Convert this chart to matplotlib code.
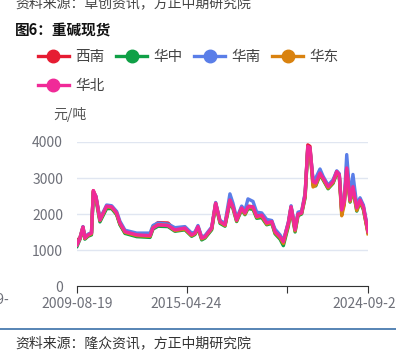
import numpy as np
import matplotlib
matplotlib.use("Agg")
import matplotlib.pyplot as plt
from matplotlib.lines import Line2D

plt.rcParams['font.family'] = ['Noto Sans CJK SC', 'DejaVu Sans']

# 日期
dates = ["2009-08-19", "2009-10-15", "2009-12-10", "2010-01-15", "2010-03-15",
         "2010-05-20", "2010-06-24", "2010-08-13", "2010-10-27", "2011-03-03",
         "2011-06-06", "2011-09-09", "2011-11-10", "2012-02-14", "2012-09-23",
         "2013-06-02", "2013-07-28", "2013-10-30", "2014-05-08", "2014-09-17",
         "2015-03-25", "2015-07-30", "2015-10-01", "2015-11-27", "2016-02-06",
         "2016-04-08", "2016-08-13", "2016-10-27", "2017-01-18", "2017-04-22",
         "2017-07-24", "2017-09-20", "2017-11-28", "2018-03-03", "2018-05-05",
         "2018-07-01", "2018-10-04", "2018-12-13", "2019-03-18", "2019-06-21",
         "2019-09-24", "2019-11-25", "2020-02-28", "2020-05-01", "2020-08-04",
         "2020-09-24", "2020-12-09", "2021-02-03", "2021-04-12", "2021-06-17",
         "2021-08-07", "2021-09-17", "2021-11-14", "2022-01-04", "2022-03-26",
         "2022-05-23", "2022-08-26", "2022-11-28", "2023-02-06", "2023-03-26",
         "2023-05-11", "2023-06-28", "2023-08-14", "2023-10-16", "2023-12-10",
         "2024-02-20", "2024-04-22", "2024-06-24", "2024-09-20"]

# 各地区价格 (元/吨)
xinan = [1250, 1350, 1640, 1330, 1420, 1470, 2650, 2470, 1850, 2200,
         2180, 2000, 1720, 1480, 1400, 1380, 1650, 1760, 1750, 1560,
         1600, 1420, 1460, 1640, 1330, 1370, 1600, 2300, 1790, 1700,
         2400, 2220, 1850, 2180, 2030, 2220, 2200, 1950, 1980, 1760,
         1800, 1520, 1380, 1230, 1760, 2200, 1580, 2000, 2050, 2550,
         3920, 3880, 2900, 2850, 3150, 3000, 2750, 2900, 3180, 3100,
         2100, 2330, 3300, 2400, 2750, 2180, 2400, 2200, 1500]
huazhong = [1100, 1300, 1600, 1300, 1380, 1420, 2600, 2400, 1780, 2150,
            2150, 1980, 1700, 1460, 1370, 1350, 1580, 1660, 1650, 1520,
            1560, 1380, 1430, 1600, 1280, 1330, 1560, 2250, 1740, 1660,
            2330, 2150, 1790, 2120, 1980, 2150, 2130, 1880, 1900, 1700,
            1740, 1450, 1300, 1120, 1660, 2150, 1500, 1950, 2000, 2450,
            3800, 3760, 2800, 2780, 3080, 2950, 2700, 2850, 3120, 3040,
            2050, 2280, 3250, 2330, 2680, 2080, 2330, 2120, 1480]
huanan = [1150, 1340, 1650, 1350, 1440, 1480, 2600, 2500, 1870, 2250,
          2230, 2070, 1800, 1550, 1470, 1470, 1680, 1750, 1720, 1620,
          1650, 1470, 1500, 1680, 1360, 1400, 1640, 2320, 1820, 1740,
          2560, 2300, 1880, 2220, 2100, 2420, 2350, 2050, 2030, 1850,
          1820, 1580, 1420, 1260, 1780, 2230, 1620, 2050, 2080, 2580,
          3860, 3820, 2950, 3000, 3250, 3050, 2800, 2950, 3200, 3120,
          2150, 2380, 3650, 2450, 3100, 2250, 2450, 2250, 1550]
huadong = [1150, 1320, 1620, 1320, 1400, 1450, 2620, 2450, 1820, 2200,
           2180, 2010, 1730, 1490, 1400, 1380, 1620, 1700, 1680, 1540,
           1580, 1400, 1450, 1620, 1310, 1350, 1590, 2280, 1770, 1680,
           2380, 2180, 1810, 2150, 2000, 2180, 2170, 1910, 1940, 1720,
           1770, 1480, 1340, 1180, 1700, 2180, 1530, 1980, 2020, 2480,
           3850, 3800, 2750, 2800, 3100, 2970, 2720, 2870, 3150, 3060,
           1950, 2250, 3250, 2350, 2700, 2100, 2350, 2150, 1450]
huabei = [1140, 1330, 1640, 1330, 1420, 1470, 2650, 2480, 1830, 2220,
          2200, 2030, 1750, 1510, 1420, 1400, 1610, 1700, 1680, 1560,
          1610, 1420, 1470, 1650, 1330, 1370, 1610, 2300, 1790, 1700,
          2390, 2200, 1830, 2170, 2030, 2200, 2200, 1930, 1970, 1750,
          1790, 1510, 1370, 1230, 1750, 2200, 1560, 2000, 2030, 2530,
          3880, 3840, 2900, 2860, 3140, 3000, 2760, 2900, 3180, 3090,
          2110, 2340, 3280, 2390, 2760, 2170, 2390, 2200, 1510]

series = [("西南", xinan, "#e61c32"), ("华中", huazhong, "#0fa046"),
          ("华南", huanan, "#5a7ee8"), ("华东", huadong, "#d9820f"),
          ("华北", huabei, "#f02a98")]

tick_dates = ["2009-08-19", "2015-04-24", "2020-07-08", "2024-09-20"]
tick_labels = ["2009-08-19", "2015-04-24", "", "2024-09-20"]

x = np.array(dates, dtype="datetime64[D]")

fig = plt.figure(figsize=(3.96, 3.54), dpi=100)
ax = fig.add_axes([77/396, 1-286/354, (368-77)/396, (286-142)/354])

for name, vals, col in series:
    ax.plot(x, vals, color=col, lw=2.4, solid_joinstyle="round")

ax.set_ylim(0, 4000)
ax.set_yticks([0, 1000, 2000, 3000, 4000])
ax.set_xlim(x[0], x[-1])
ax.set_xticks(np.array(tick_dates, dtype="datetime64[D]"))
ax.set_xticklabels(tick_labels)
ax.grid(axis="y", color="#e0e6f1", lw=1)
ax.set_axisbelow(True)
for s in ["top", "right", "left"]:
    ax.spines[s].set_visible(False)
ax.spines["bottom"].set_color("#333333")
ax.tick_params(axis="y", length=0, pad=10, labelsize=10, labelcolor="#6e7079")
ax.tick_params(axis="x", length=5, color="#333333", pad=3, labelsize=10,
               labelcolor="#6e7079")

fig.text(70/396, 1-115/354, "元/吨", fontsize=10, color="#555555",
         ha="center", va="center")
fig.text(9/396, 1-300/354, "2009-", fontsize=10, color="#6e7079",
         ha="right", va="center")

# 图例
handles = []
for name, vals, col in series:
    handles.append(Line2D([], [], color=col, lw=2.4, marker="o", markersize=9))
order = [0, 4, 1, 2, 3]
fig.legend([handles[i] for i in order], [series[i][0] for i in order],
           ncol=4, loc="upper left", bbox_to_anchor=(25/396, 1-37/354),
           frameon=False, fontsize=10.5, handlelength=2.1, handletextpad=0.45,
           columnspacing=0.8, labelspacing=1.0, labelcolor="#444444")

fig.text(15/396, 1-31/354, "图6：重碱现货", fontsize=10.5, fontweight="bold",
         color="#111111", ha="left", va="center")
fig.text(15/396, 1-3/354, "资料来源：卓创资讯，方正中期研究院", fontsize=10,
         color="#444444", ha="left", va="center", style="italic")
fig.text(15/396, 1-343/354, "资料来源：隆众资讯，方正中期研究院", fontsize=10,
         color="#333333", ha="left", va="center", style="italic")
fig.add_artist(Line2D([0, 1], [1-329/354, 1-329/354], color="#3a6fa8", lw=1.2))

plt.savefig("out.png", dpi=100)
